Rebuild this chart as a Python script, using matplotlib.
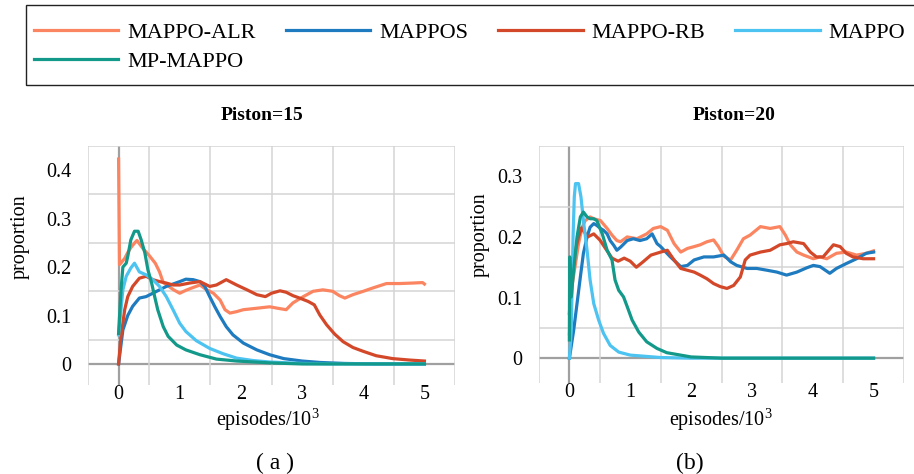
import matplotlib
matplotlib.use("Agg")
import matplotlib.pyplot as plt
from matplotlib.patches import Rectangle
import numpy as np

plt.rcParams['font.family'] = ['Liberation Serif', 'DejaVu Serif']
plt.rcParams['mathtext.fontset'] = 'custom'
plt.rcParams['mathtext.rm'] = 'Liberation Serif'

series_names = ["MAPPO-ALR", "MAPPOS", "MAPPO-RB", "MAPPO", "MP-MAPPO"]
series_colors = ["#FB8560", "#1F7BBF", "#D4482A", "#4CC3F0", "#13998A"]

# ---------- Piston=15 ----------
x15_alr = [0, 0.015, 0.05, 0.1, 0.15, 0.2, 0.25, 0.3, 0.4, 0.5, 0.6, 0.67, 0.73, 0.8, 0.9, 1.0, 1.1, 1.2, 1.33, 1.44,
           1.55, 1.66, 1.74, 1.82, 1.93, 2.04, 2.26, 2.47, 2.6, 2.74, 2.85, 3.02, 3.18, 3.34, 3.5, 3.61, 3.7, 3.83,
           4.0, 4.16, 4.38, 4.59, 4.81, 4.97, 5.0]
y15_alr = [0.423, 0.205, 0.21, 0.218, 0.23, 0.24, 0.248, 0.255, 0.238, 0.224, 0.208, 0.19, 0.168, 0.162, 0.153, 0.146,
           0.152, 0.157, 0.163, 0.153, 0.146, 0.132, 0.112, 0.105, 0.108, 0.112, 0.115, 0.118, 0.115, 0.112, 0.126,
           0.139, 0.15, 0.153, 0.15, 0.141, 0.136, 0.143, 0.15, 0.157, 0.166, 0.166, 0.167, 0.168, 0.165]

x15_mappos = [0, 0.03, 0.07, 0.15, 0.23, 0.34, 0.45, 0.56, 0.67, 0.78, 0.89, 1.0, 1.1, 1.22, 1.33, 1.41, 1.49, 1.57,
              1.66, 1.76, 1.87, 2.04, 2.26, 2.47, 2.7, 3.0, 3.3, 3.7, 4.2, 5.0]
y15_mappos = [0.0, 0.03, 0.07, 0.1, 0.119, 0.136, 0.139, 0.146, 0.153, 0.16, 0.165, 0.17, 0.175, 0.174, 0.17, 0.16,
              0.139, 0.119, 0.098, 0.077, 0.06, 0.043, 0.029, 0.019, 0.011, 0.006, 0.003, 0.001, 0.0, 0.0]

x15_rb = [0, 0.04, 0.1, 0.15, 0.23, 0.34, 0.45, 0.56, 0.67, 0.78, 0.89, 1.0, 1.16, 1.33, 1.49, 1.6, 1.76, 1.93, 2.1,
          2.26, 2.4, 2.5, 2.64, 2.74, 2.85, 2.96, 3.1, 3.2, 3.29, 3.4, 3.53, 3.67, 3.83, 4.0, 4.21, 4.48, 4.76, 5.0]
y15_rb = [0.0, 0.057, 0.112, 0.139, 0.16, 0.177, 0.181, 0.174, 0.17, 0.167, 0.163, 0.163, 0.167, 0.17, 0.16, 0.163,
          0.174, 0.163, 0.153, 0.143, 0.139, 0.146, 0.151, 0.148, 0.141, 0.136, 0.129, 0.122, 0.101, 0.081, 0.062,
          0.046, 0.034, 0.026, 0.017, 0.011, 0.008, 0.006]

x15_mappo = [0, 0.03, 0.07, 0.125, 0.2, 0.26, 0.34, 0.45, 0.56, 0.67, 0.78, 0.89, 1.0, 1.1, 1.27, 1.49, 1.71, 1.93,
             2.2, 2.47, 3.0, 3.5, 5.0]
y15_mappo = [0.06, 0.1, 0.153, 0.181, 0.198, 0.208, 0.19, 0.184, 0.174, 0.16, 0.139, 0.112, 0.084, 0.067, 0.048,
             0.032, 0.021, 0.012, 0.007, 0.004, 0.001, 0.0, 0.0]

x15_mp = [0, 0.04, 0.07, 0.125, 0.15, 0.2, 0.26, 0.32, 0.37, 0.43, 0.48, 0.54, 0.59, 0.64, 0.73, 0.81, 0.95, 1.1,
          1.33, 1.6, 1.93, 2.5, 3.0, 5.0]
y15_mp = [0.063, 0.153, 0.2, 0.208, 0.222, 0.256, 0.274, 0.274, 0.256, 0.229, 0.194, 0.167, 0.139, 0.112, 0.077,
          0.057, 0.039, 0.029, 0.019, 0.01, 0.006, 0.002, 0.0, 0.0]

# ---------- Piston=20 ----------
x20_alr = [0, 0.04, 0.1, 0.15, 0.21, 0.26, 0.34, 0.4, 0.51, 0.62, 0.7, 0.78, 0.84, 0.95, 1.11, 1.27, 1.38, 1.5, 1.61,
           1.72, 1.83, 1.94, 2.05, 2.15, 2.26, 2.37, 2.45, 2.54, 2.65, 2.75, 2.86, 2.97, 3.14, 3.3, 3.46, 3.55, 3.63,
           3.74, 3.85, 4.01, 4.12, 4.23, 4.39, 4.55, 4.72, 4.88, 5.0]
y20_alr = [0.04, 0.118, 0.156, 0.189, 0.216, 0.227, 0.233, 0.23, 0.227, 0.214, 0.203, 0.194, 0.192, 0.2, 0.197, 0.205,
           0.214, 0.217, 0.211, 0.189, 0.175, 0.181, 0.184, 0.187, 0.192, 0.195, 0.184, 0.168, 0.162, 0.178, 0.197,
           0.203, 0.217, 0.214, 0.217, 0.203, 0.187, 0.175, 0.17, 0.164, 0.167, 0.164, 0.173, 0.175, 0.17, 0.173,
           0.177]

x20_mappos = [0, 0.07, 0.125, 0.18, 0.23, 0.29, 0.34, 0.4, 0.45, 0.51, 0.56, 0.62, 0.67, 0.73, 0.78, 0.84, 0.95, 1.05,
              1.16, 1.27, 1.36, 1.44, 1.5, 1.66, 1.83, 1.94, 2.05, 2.21, 2.37, 2.54, 2.65, 2.75, 2.92, 3.08, 3.25,
              3.41, 3.57, 3.74, 3.9, 4.01, 4.12, 4.28, 4.39, 4.55, 4.72, 4.88, 5.0]
y20_mappos = [0.0, 0.046, 0.09, 0.134, 0.173, 0.2, 0.216, 0.222, 0.219, 0.214, 0.211, 0.205, 0.194, 0.186, 0.178,
              0.183, 0.194, 0.197, 0.194, 0.197, 0.205, 0.189, 0.184, 0.167, 0.151, 0.153, 0.162, 0.167, 0.167, 0.17,
              0.159, 0.153, 0.148, 0.148, 0.145, 0.142, 0.137, 0.142, 0.149, 0.153, 0.151, 0.14, 0.148, 0.156, 0.164,
              0.173, 0.175]

x20_rb = [0, 0.04, 0.1, 0.15, 0.2, 0.3, 0.4, 0.5, 0.6, 0.7, 0.8, 0.9, 1.0, 1.1, 1.2, 1.34, 1.5, 1.61, 1.72, 1.83,
          1.94, 2.05, 2.15, 2.26, 2.37, 2.48, 2.59, 2.7, 2.81, 2.89, 2.97, 3.14, 3.3, 3.46, 3.57, 3.68, 3.85, 3.96,
          4.06, 4.17, 4.34, 4.45, 4.55, 4.66, 4.83, 5.0]
y20_rb = [0.074, 0.145, 0.178, 0.2, 0.215, 0.2, 0.205, 0.195, 0.18, 0.165, 0.16, 0.165, 0.16, 0.15, 0.158, 0.17,
          0.175, 0.178, 0.162, 0.148, 0.145, 0.142, 0.137, 0.131, 0.123, 0.118, 0.115, 0.12, 0.134, 0.162, 0.17,
          0.175, 0.178, 0.187, 0.189, 0.192, 0.189, 0.175, 0.167, 0.167, 0.187, 0.184, 0.173, 0.167, 0.164, 0.164]

x20_mappo = [0, 0.03, 0.06, 0.08, 0.1, 0.15, 0.19, 0.23, 0.29, 0.34, 0.4, 0.48, 0.56, 0.67, 0.81, 1.0, 1.5, 2.0, 5.0]
y20_mappo = [0.0, 0.046, 0.2, 0.266, 0.288, 0.288, 0.266, 0.227, 0.178, 0.129, 0.09, 0.063, 0.041, 0.021, 0.01,
             0.005, 0.001, 0.0, 0.0]

x20_mp = [0, 0.005, 0.03, 0.07, 0.125, 0.18, 0.23, 0.29, 0.34, 0.4, 0.45, 0.54, 0.62, 0.7, 0.75, 0.81, 0.89, 0.95,
          1.03, 1.14, 1.27, 1.44, 1.6, 2.0, 2.5, 5.0]
y20_mp = [0.03, 0.167, 0.101, 0.145, 0.2, 0.233, 0.241, 0.233, 0.23, 0.23, 0.227, 0.205, 0.178, 0.162, 0.129, 0.112,
          0.101, 0.085, 0.063, 0.043, 0.027, 0.016, 0.009, 0.002, 0.0, 0.0]

panels = [
    dict(title="Piston=15", tag="( a )",
         data=[(x15_alr, y15_alr), (x15_mappos, y15_mappos), (x15_rb, y15_rb), (x15_mappo, y15_mappo), (x15_mp, y15_mp)],
         yticks=[0, 0.1, 0.2, 0.3, 0.4], ylabels=["0", "0.1", "0.2", "0.3", "0.4"], ylim=(-0.0435, 0.45)),
    dict(title="Piston=20", tag="(b)",
         data=[(x20_alr, y20_alr), (x20_mappos, y20_mappos), (x20_rb, y20_rb), (x20_mappo, y20_mappo), (x20_mp, y20_mp)],
         yticks=[0, 0.1, 0.2, 0.3], ylabels=["0", "0.1", "0.2", "0.3"], ylim=(-0.041, 0.35)),
]
xticks = [0, 1, 2, 3, 4, 5]
xticklabels = ["0", "1", "2", "3", "4", "5"]

W, H = 914, 474
fig = plt.figure(figsize=(W / 100, H / 100), dpi=100)

rects = [(88, 146, 455, 385), (539, 146, 904, 383)]
title_pos = [(262, 116), (734, 116)]
ylabel_pos = [(20, 237), (480, 235)]
xlabel_pos = [(268, 420), (721, 420)]
tag_pos = [(275, 463), (690, 463)]

handles = []
for i, p in enumerate(panels):
    l, t, r, b = rects[i]
    ax = fig.add_axes([l / W, 1 - b / H, (r - l) / W, (b - t) / H])
    for s in ax.spines.values():
        s.set_visible(False)
    ax.set_xlim(-0.5, 5.5)
    ax.set_ylim(*p["ylim"])
    ax.set_xticks(np.arange(-0.5, 5.51, 0.5), minor=True)
    ax.set_yticks(np.arange(0, p["ylim"][1] + 0.001, 0.05), minor=True)
    ax.grid(which="minor", color="#d4d4d4", lw=1.1, zorder=0)
    ax.tick_params(which="both", length=0)
    ax.set_xticks(xticks)
    ax.set_xticklabels(xticklabels, fontsize=14.5)
    ax.set_yticks(p["yticks"])
    ax.set_yticklabels(p["ylabels"], fontsize=14.5)
    ax.tick_params(axis="y", pad=12)
    ax.tick_params(axis="x", pad=0)
    ax.axhline(0, color="#a0a0a0", lw=1.6, zorder=1)
    ax.axvline(0, color="#a0a0a0", lw=1.6, zorder=1)
    hs = []
    for (xs, ys), name, col in zip(p["data"], series_names, series_colors):
        ln, = ax.plot(xs, ys, color=col, lw=2.3, label=name, zorder=3, solid_joinstyle="round")
        hs.append(ln)
    if i == 0:
        handles = hs
    tx, ty = title_pos[i]
    fig.text(tx / W, 1 - ty / H, p["title"], ha="center", va="center", fontsize=14, fontweight="bold")
    yx, yy = ylabel_pos[i]
    fig.text(yx / W, 1 - yy / H, "proportion", ha="center", va="center", rotation=90, fontsize=14.5)
    xx, xy = xlabel_pos[i]
    fig.text(xx / W, 1 - xy / H, "episodes/10$^3$", ha="center", va="center", fontsize=14.5)
    gx, gy = tag_pos[i]
    fig.text(gx / W, 1 - gy / H, p["tag"], ha="center", va="center", fontsize=17)

# legend frame
fig.add_artist(Rectangle((26 / W, 1 - 85 / H), (W + 10 - 26) / W, 80 / H, transform=fig.transFigure,
                         fill=False, edgecolor="#222222", lw=1.0))
# matplotlib fills legend columns first; reorder so rows read ALR, MAPPOS, RB, MAPPO / MP-MAPPO
order = [0, 4, 1, 2, 3]
fig.legend(handles=[handles[k] for k in order], labels=[series_names[k] for k in order],
           loc="upper left", bbox_to_anchor=(34 / W, 1 - 22 / H),
           ncol=4, frameon=False, fontsize=16, handlelength=3.8, handletextpad=0.4, columnspacing=1.35,
           labelspacing=0.4, borderpad=0, borderaxespad=0)

fig.savefig("out.png", dpi=100)
